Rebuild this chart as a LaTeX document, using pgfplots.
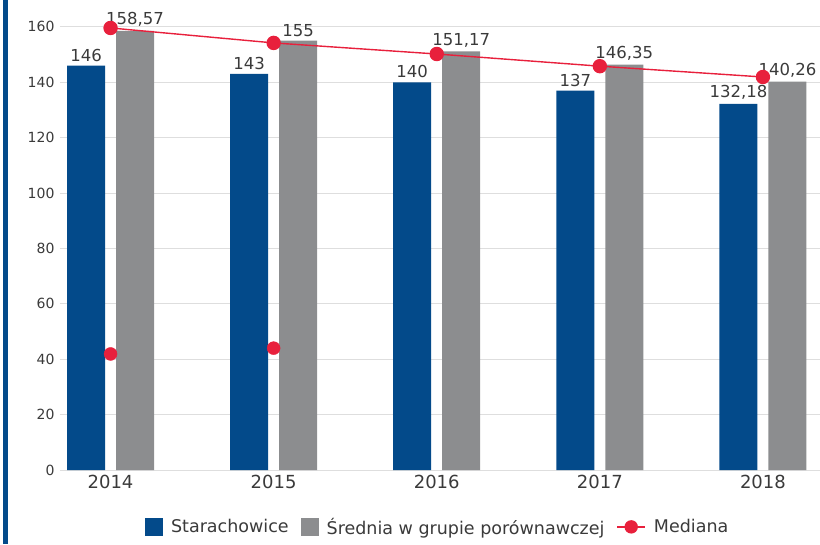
\documentclass[border=0pt]{standalone}
\usepackage{pgfplots}
\pgfplotsset{compat=1.18}
\usepackage{fontspec}
\setmainfont{DejaVu Sans}
\definecolor{sblue}{HTML}{034A8A}
\definecolor{sgray}{HTML}{8C8D8F}
\definecolor{sred}{HTML}{E8203C}
\definecolor{txt}{HTML}{3A3A3A}
\begin{document}
\begin{tikzpicture}
\useasboundingbox (-60pt,-74pt) rectangle (760pt,470pt);
\fill[sblue] (-57pt,-74pt) rectangle (-52pt,470pt);
\begin{axis}[
  scale only axis, width=760pt, height=470pt,
  xmin=-0.31, xmax=4.35, ymin=0, ymax=169.7,
  clip=false,
  axis line style={draw=none},
  tick style={draw=none},
  ymajorgrids, grid style={draw=black!13, line width=0.8pt},
  ytick={0,20,...,160},
  xtick={0,1,2,3,4},
  xticklabels={2014,2015,2016,2017,2018},
  yticklabel style={font=\fontsize{14}{14}\selectfont, text=txt, xshift=-2pt},
  xticklabel style={font=\fontsize{18}{18}\selectfont, text=txt, yshift=-2pt},
  /pgf/number format/assume math mode=true,
  legend columns=3,
  legend style={draw=none, fill=none, at={(axis description cs:0.497,-0.121)}, anchor=center,
    font=\fontsize{17.5}{17.5}\selectfont, text=txt,
    /tikz/every odd column/.append style={column sep=6pt},
    /tikz/every even column/.append style={column sep=10pt}},
]
\addplot[ybar, bar width=38pt, bar shift=-24.5pt, fill=sblue, draw=none,
  nodes near coords, point meta=explicit symbolic,
  every node near coord/.append style={font=\fontsize{16.5}{16.5}\selectfont, text=txt, inner sep=4pt, xshift=-24.5pt},
  legend image code/.code={\fill[sblue] (0pt,-9pt) rectangle (18pt,9pt);}]
  coordinates {(0,146) [146] (1,143) [143] (2,140) [140] (3,137) [137] (4,132.18) [{132,18}]};
\addlegendentry{Starachowice}
\addplot[ybar, bar width=38pt, bar shift=24.5pt, fill=sgray, draw=none,
  nodes near coords, point meta=explicit symbolic,
  every node near coord/.append style={font=\fontsize{16.5}{16.5}\selectfont, text=txt, inner sep=4pt, xshift=24.5pt},
  legend image code/.code={\fill[sgray] (0pt,-9pt) rectangle (18pt,9pt);}]
  coordinates {(0,158.57) [{158,57}] (1,155) [155] (2,151.17) [{151,17}] (3,146.35) [{146,35}] (4,140.26) [{140,26}]};
\addlegendentry{Średnia w grupie porównawczej}
\addplot[sred, line width=1.4pt, mark=*, mark size=6.5pt,
  legend image code/.code={\draw[sred, line width=1.5pt] (0pt,0pt) -- (28pt,0pt); \fill[sred] (14pt,0pt) circle (6pt);}]
  coordinates {(0,159.6) (1,154.2) (2,150.2) (3,145.8) (4,141.9)};
\addlegendentry{Mediana}
\addplot[only marks, mark=*, mark size=6.5pt, sred, forget plot]
  coordinates {(0,41.9) (1,44)};
\end{axis}
\end{tikzpicture}
\end{document}
